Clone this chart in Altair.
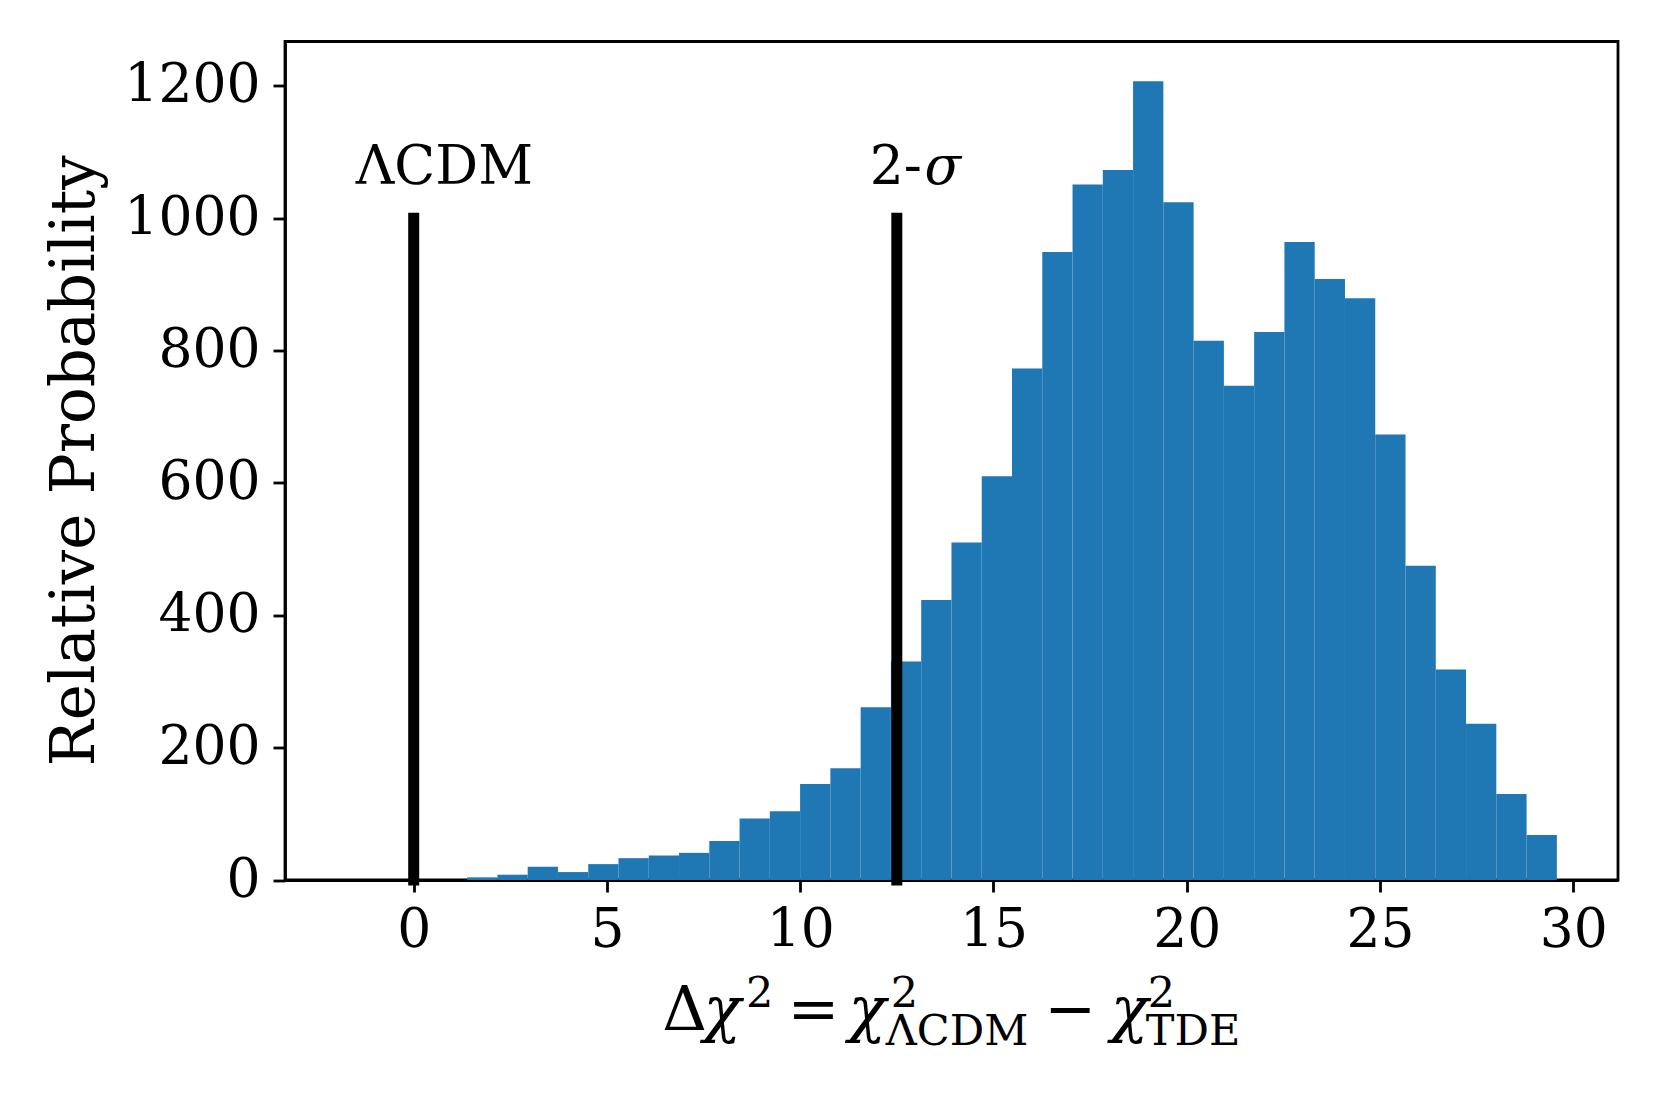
import altair as alt
import pandas as pd

# ---- data ----
BIN_START = -1.75
BIN_WIDTH = 0.7832
counts = [0, 0, 0, 0, 4, 8, 20, 12, 24, 33,
          37, 41, 59, 93, 104, 145, 169, 261, 330, 423,
          510, 610, 773, 949, 1051, 1073, 1207, 1024, 815, 747,
          828, 964, 908, 879, 673, 475, 318, 236, 130, 68]
marker_x = [0.0, 12.5]
marker_top = [1000, 1000]
x_ticks = [0, 5, 10, 15, 20, 25, 30]
y_ticks = [0, 200, 400, 600, 800, 1000, 1200]

FONT = "DejaVu Serif"
BLUE = "#1f77b4"
W, H = 1333, 838.5

hist = pd.DataFrame({
    "x0": [BIN_START + i * BIN_WIDTH for i in range(len(counts))],
    "x1": [BIN_START + (i + 1) * BIN_WIDTH for i in range(len(counts))],
    "count": counts,
})
markers = pd.DataFrame({"x": marker_x, "y0": [0, 0], "y1": marker_top})
one = pd.DataFrame({"k": [0]})

xscale = alt.Scale(domain=[-3.33, 31.16], nice=False, zero=False)
yscale = alt.Scale(domain=[0, 1267], nice=False, zero=False)

bars = alt.Chart(hist).mark_rect(color=BLUE, strokeWidth=0).encode(
    x=alt.X("x0:Q", scale=xscale, title=None,
            axis=alt.Axis(values=x_ticks, format="d", labelPadding=12,
                          labelFlush=False, labelOverlap=False)),
    x2="x1:Q",
    y=alt.Y("count:Q", scale=yscale, title=None,
            axis=alt.Axis(values=y_ticks, format="d", labelPadding=13,
                          labelFlush=False, labelOverlap=False)),
    y2=alt.Y2(datum=0),
)

rules = alt.Chart(markers).mark_rule(color="black", strokeWidth=11,
                                     strokeCap="square").encode(
    x="x:Q", y="y0:Q", y2="y1:Q")

ANN = 53.5
ann_lcdm = alt.Chart(one).mark_text(
    text="ΛCDM", font=FONT, fontSize=ANN, align="left", baseline="alphabetic",
    color="black").encode(x=alt.datum(-1.5), y=alt.datum(1052))
ann_2 = alt.Chart(one).mark_text(
    text="2-", font=FONT, fontSize=ANN, align="left", baseline="alphabetic",
    color="black").encode(x=alt.datum(11.8), y=alt.datum(1052))
ann_sigma = alt.Chart(one).mark_text(
    text="σ", font=FONT, fontSize=ANN, fontStyle="italic", align="center",
    baseline="alphabetic", dx=73, color="black").encode(
    x=alt.datum(11.8), y=alt.datum(1052))


def piece(text, x, y, size, italic=False):
    kw = dict(text=text, font=FONT, fontSize=size, align="center",
              baseline="alphabetic", color="black")
    if italic:
        kw["fontStyle"] = "italic"
    return alt.Chart(one).mark_text(**kw).encode(
        x=alt.value(x), y=alt.value(y))


MAIN, SCRIPT = 62, 43
BASE, SUP, SUB = 988.5, 965.0, 1003.0
xlabel = [
    piece("Δ", 399.7, BASE, MAIN),
    piece("χ", 437.2, BASE, MAIN, True),
    piece("2", 474.7, SUP, SCRIPT),
    piece("=", 528.5, BASE, MAIN),
    piece("χ", 582.2, BASE, MAIN, True),
    piece("2", 619.5, SUP, SCRIPT),
    piece("ΛCDM", 672.0, SUB, SCRIPT),
    piece("−", 785.5, BASE, MAIN),
    piece("χ", 844.5, BASE, MAIN, True),
    piece("2", 876.5, SUP, SCRIPT),
    piece("TDE", 908.0, SUB, SCRIPT),
]

ylabel = alt.Chart(one).mark_text(
    text="Relative Probability", font=FONT, fontSize=61, angle=270,
    align="center", baseline="alphabetic", color="black").encode(
    x=alt.value(-191), y=alt.value(H / 2))

chart = alt.layer(bars, rules, ann_lcdm, ann_2, ann_sigma, ylabel, *xlabel).properties(
    width=W, height=H,
    autosize=alt.AutoSizeParams(type="none"),
    padding={"left": 277, "top": 33.5, "right": 29, "bottom": 200},
    background="white",
).configure_view(
    stroke="black", strokeWidth=2.8
).configure_axis(
    grid=False, domainColor="black", domainWidth=2.8,
    tickColor="black", tickWidth=2.8, tickSize=12,
    labelFont=FONT, labelFontSize=53.5, labelColor="black",
)

chart.save("out.html", embed_options={"renderer": "svg", "actions": False})
